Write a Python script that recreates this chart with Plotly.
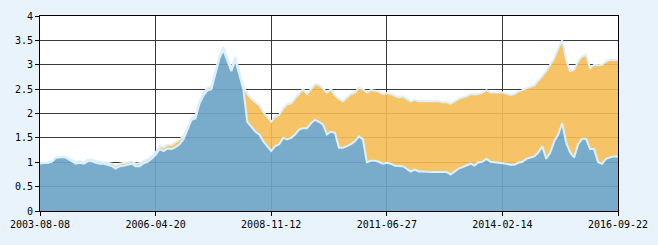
import plotly.graph_objects as go

# sample positions (evenly spaced trading-day index)
tick_labels = ["2003-08-08", "2006-04-20", "2008-11-12", "2011-06-27", "2014-02-14", "2016-09-22"]

# unit NAV (blue)
unit_nav = [
    0.98, 0.98, 0.99, 1.02, 1.09, 1.10, 1.11, 1.07, 1.02, 0.97, 0.99, 0.97, 1.02, 1.02, 0.99, 0.97, 0.97, 0.95, 0.92, 0.87,
    0.92, 0.93, 0.95, 0.97, 0.92, 0.92, 0.98, 1.01, 1.07, 1.15, 1.27, 1.23, 1.28, 1.27, 1.31, 1.37, 1.47,
    1.67, 1.87, 1.90, 2.20, 2.37, 2.47, 2.50, 2.80, 3.13, 3.30, 3.07, 2.87, 3.10, 2.80, 2.50, 1.83, 1.73, 1.63, 1.57, 1.43,
    1.33, 1.23, 1.33, 1.37, 1.50, 1.47, 1.50, 1.57, 1.67, 1.70, 1.70, 1.80, 1.87, 1.83, 1.77, 1.57,
    1.63, 1.60, 1.30, 1.30, 1.33, 1.37, 1.43, 1.53, 1.47, 1.00, 1.03, 1.03, 1.01, 0.97, 0.99, 0.97, 0.93, 0.92, 0.92, 0.87,
    0.81, 0.85, 0.81, 0.81, 0.80, 0.80, 0.80, 0.80, 0.79, 0.80, 0.75, 0.81, 0.87, 0.90, 0.93, 0.97,
    0.93, 1.00, 1.01, 1.07, 1.01, 1.00, 0.99, 0.99, 0.97, 0.95, 0.95, 0.99, 1.01, 1.07, 1.10, 1.12, 1.20, 1.33, 1.07, 1.20,
    1.43, 1.57, 1.80, 1.40, 1.20, 1.10, 1.37, 1.48, 1.48, 1.27, 1.27, 1.00, 0.97, 1.07, 1.10, 1.12, 1.12,
]

# accumulated NAV (orange)
acc_nav = [
    0.98, 0.98, 0.99, 1.02, 1.10, 1.11, 1.12, 1.09, 1.04, 1.00, 1.02, 1.00, 1.05, 1.05, 1.02, 1.01, 1.01, 0.99, 0.97, 0.93,
    0.97, 0.98, 1.00, 1.02, 0.97, 0.98, 1.03, 1.06, 1.12, 1.20, 1.33, 1.30, 1.36, 1.36, 1.41, 1.46, 1.54,
    1.70, 1.90, 1.95, 2.25, 2.42, 2.52, 2.56, 2.86, 3.18, 3.36, 3.13, 2.93, 3.16, 2.86, 2.55, 2.40, 2.30, 2.23, 2.17, 2.03,
    1.93, 1.83, 1.93, 1.97, 2.10, 2.19, 2.21, 2.30, 2.40, 2.50, 2.40, 2.50, 2.60, 2.59, 2.50, 2.43,
    2.50, 2.37, 2.30, 2.25, 2.33, 2.40, 2.43, 2.53, 2.50, 2.43, 2.48, 2.47, 2.45, 2.40, 2.42, 2.40, 2.37, 2.33, 2.35, 2.30,
    2.25, 2.28, 2.25, 2.25, 2.25, 2.25, 2.25, 2.25, 2.23, 2.23, 2.20, 2.25, 2.30, 2.33, 2.35, 2.40,
    2.39, 2.40, 2.43, 2.48, 2.43, 2.43, 2.43, 2.43, 2.41, 2.38, 2.40, 2.45, 2.48, 2.52, 2.55, 2.57, 2.67, 2.77, 2.87, 3.00,
    3.13, 3.33, 3.50, 3.10, 2.87, 2.90, 3.07, 3.17, 3.20, 2.93, 3.00, 2.99, 3.00, 3.07, 3.10, 3.10, 3.10,
]

idx = list(range(len(unit_nav)))
n_last = len(unit_nav) - 1
tick_vals = [n_last * k / (len(tick_labels) - 1) for k in range(len(tick_labels))]

fig = go.Figure()
fig.add_trace(go.Scatter(
    x=idx, y=unit_nav, mode="lines", fill="tozeroy",
    fillcolor="rgba(110,165,197,0.92)",
    line=dict(color="#ddeffa", width=2),
    hoverinfo="skip", showlegend=False,
))
fig.add_trace(go.Scatter(
    x=idx, y=acc_nav, mode="lines", fill="tonexty",
    fillcolor="rgba(245,188,85,0.9)",
    line=dict(color="#ddeffa", width=2),
    hoverinfo="skip", showlegend=False,
))

axis_font = dict(family="DejaVu Sans Mono", size=10, color="#000000")
fig.update_layout(
    width=658, height=245,
    margin=dict(l=38, r=40, t=10, b=34),
    paper_bgcolor="#e8f3fb",
    plot_bgcolor="#ffffff",
    xaxis=dict(
        range=[0, n_last], tickvals=tick_vals, ticktext=tick_labels,
        showgrid=True, gridcolor="#3a3a3a", gridwidth=1,
        showline=True, linecolor="#000000", linewidth=1, mirror=True,
        ticks="outside", ticklen=4, tickcolor="#000000",
        tickfont=axis_font, zeroline=False,
    ),
    yaxis=dict(
        range=[0, 4], dtick=0.5, tick0=0,
        showgrid=True, gridcolor="#3a3a3a", gridwidth=1,
        showline=True, linecolor="#000000", linewidth=1, mirror=True,
        ticks="outside", ticklen=4, tickcolor="#000000",
        tickfont=axis_font, zeroline=False,
    ),
)

fig.write_html("out.html")
